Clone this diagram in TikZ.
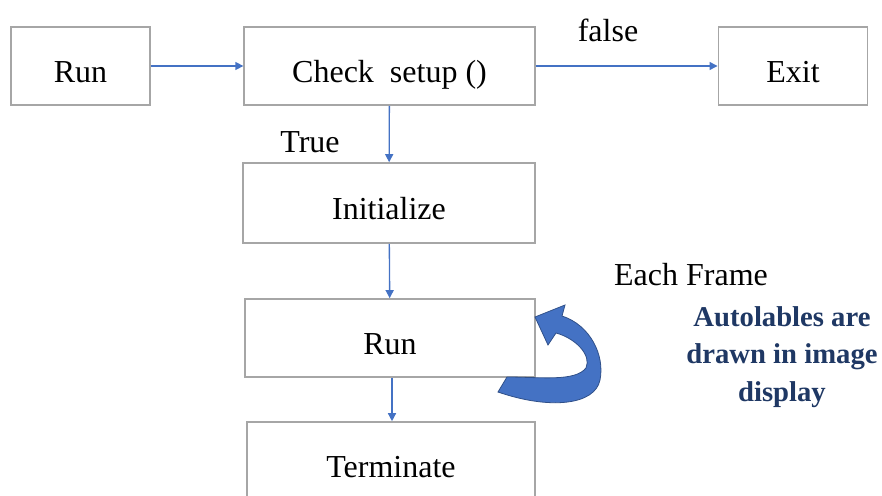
\documentclass[tikz,border=0pt]{standalone}
\usepackage{fontspec}
\setmainfont{Liberation Serif}
\usetikzlibrary{arrows.meta}
\definecolor{boxgray}{HTML}{A6A6A6}
\definecolor{flowblue}{HTML}{4472C4}
\definecolor{noteblue}{HTML}{1F3864}
\tikzset{
  stagebox/.style={draw=boxgray, line width=1.2pt, minimum height=58.5pt,
    inner sep=0pt, text height=24pt, text depth=0pt,
    font=\rmfamily\fontsize{24}{28}\selectfont},
  flow/.style={draw=flowblue, line width=1pt, -{Triangle[length=6pt,width=6pt]}},
  lbl/.style={font=\rmfamily\fontsize{24}{28}\selectfont},
}
\begin{document}
\begin{tikzpicture}[x=0.75pt,y=-0.75pt]
    \useasboundingbox (0,0) rectangle (882,496);
    \clip (0,0) rectangle (882,496);

    % Boxes
    \node[stagebox, minimum width=104pt] (run) at (80.5,66) {Run};
    \node[stagebox, minimum width=218pt] (check) at (389.5,66) {Check\ \ setup ()};
    \node[stagebox, minimum width=112pt] (exit) at (793,66) {Exit};
    \node[stagebox, minimum width=219pt, minimum height=60pt] (init) at (389,203) {Initialize};
    \node[stagebox, minimum width=217.5pt] (loop) at (390,338) {Run};
    \node[stagebox, minimum width=216pt] (term) at (391,461) {Terminate};

    % Arrows
    \draw[flow] (run) -- (check);
    \draw[flow] (check) -- (exit);
    \draw[flow] (check) -- (init);
    \draw[flow] (init) -- (loop);
    \draw[flow] (loop.south) ++(2,0) coordinate (ls) (ls) -- (ls |- term.north);

    % Labels
    \node[lbl] (false) at (608,30) {false};
    \node[lbl] (true) at (310,142) {True};
    \node[lbl] (frame) at (691,275) {Each Frame};
    \node[font=\rmfamily\bfseries\fontsize{21.5}{28}\selectfont, text=noteblue, align=center]
      (note) at (782,357) {Autolables are\\drawn in image\\display};

    % Curved arrow
    \filldraw[fill=flowblue, draw=flowblue!70!black, line width=0.6pt]
      (507,377) .. controls (540,377) and (575,382) .. (586,368)
      .. controls (592,355) and (575,338) .. (556,333)
      -- (548,345) -- (535,317) -- (565,305) -- (562,316)
      .. controls (590,325) and (605,355) .. (600,380)
      .. controls (595,405) and (550,410) .. (498,392) -- cycle;
\end{tikzpicture}
\end{document}
